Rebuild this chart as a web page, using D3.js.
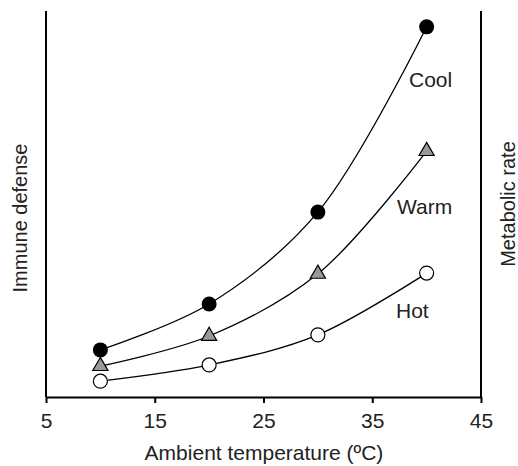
<!DOCTYPE html>
<html>
<head>
<meta charset="utf-8">
<script src="https://d3js.org/d3.v7.min.js"></script>
<style>
  body { margin: 0; background: #fff; }
  text { font-family: "Liberation Sans", Arial, sans-serif; fill: #222; }
</style>
</head>
<body>
<svg width="518" height="466"></svg>
<script>
// values (y is a unitless relative scale 0-100)
const temps = [10, 20, 30, 40];
const cool = [12.2, 24.1, 47.9, 95.9];
const warm = [8.0, 15.8, 31.9, 63.7];
const hot = [4.1, 8.3, 16.1, 32.1];
const xTicks = [5, 15, 25, 35, 45];

const plotLeft = 46, plotRight = 481, plotTop = 11, plotBottom = 397;
const fs = '21px';

const svg = d3.select('svg');

const x = d3.scaleLinear().domain([5, 45]).range([plotLeft, plotRight]);
const y = d3.scaleLinear().domain([0, 100]).range([plotBottom, plotTop]);

// x axis
const xAxis = svg.append('g')
    .attr('transform', 'translate(0,' + plotBottom + ')')
    .call(d3.axisBottom(x).tickValues(xTicks).tickSize(6).tickPadding(10).tickSizeOuter(0));
xAxis.select('.domain').attr('stroke', '#000').attr('stroke-width', 2);
xAxis.selectAll('.tick line').attr('stroke', '#000').attr('stroke-width', 2);
xAxis.selectAll('.tick text')
    .style('font-family', '"Liberation Sans", Arial, sans-serif')
    .style('font-size', fs).attr('fill', '#222');

// left and right vertical axes (no ticks)
svg.append('line').attr('x1', plotLeft).attr('x2', plotLeft).attr('y1', plotTop).attr('y2', plotBottom)
    .attr('stroke', '#000').attr('stroke-width', 2);
svg.append('line').attr('x1', plotRight).attr('x2', plotRight).attr('y1', plotTop).attr('y2', plotBottom)
    .attr('stroke', '#000').attr('stroke-width', 2);

// curves
const line = d3.line()
    .x((d, i) => x(temps[i]))
    .y(d => y(d))
    .curve(d3.curveCatmullRom.alpha(0.5));

[cool, warm, hot].forEach(function(s) {
  svg.append('path').attr('d', line(s))
      .attr('fill', 'none').attr('stroke', '#000').attr('stroke-width', 1.3);
});

// markers
svg.append('g').selectAll('circle').data(hot).enter().append('circle')
    .attr('cx', (d, i) => x(temps[i])).attr('cy', d => y(d)).attr('r', 7)
    .attr('fill', '#fff').attr('stroke', '#000').attr('stroke-width', 1.2);

const tri = d3.symbol().type(d3.symbolTriangle).size(100);
svg.append('g').selectAll('path').data(warm).enter().append('path')
    .attr('d', tri)
    .attr('transform', (d, i) => 'translate(' + x(temps[i]) + ',' + y(d) + ')')
    .attr('fill', '#999').attr('stroke', '#000').attr('stroke-width', 1.2);

svg.append('g').selectAll('circle').data(cool).enter().append('circle')
    .attr('cx', (d, i) => x(temps[i])).attr('cy', d => y(d)).attr('r', 7.5)
    .attr('fill', '#000');

// series labels
svg.append('text').attr('x', 409).attr('y', 87).style('font-size', fs).text('Cool');
svg.append('text').attr('x', 397).attr('y', 214).style('font-size', fs).text('Warm');
svg.append('text').attr('x', 396).attr('y', 318).style('font-size', fs).text('Hot');

// axis titles
svg.append('text').attr('x', 264).attr('y', 460).attr('text-anchor', 'middle')
    .style('font-size', fs).text('Ambient temperature (ºC)');
svg.append('text').attr('transform', 'translate(27,218) rotate(-90)')
    .attr('text-anchor', 'middle').style('font-size', '20px').text('Immune defense');
svg.append('text').attr('transform', 'translate(515,204) rotate(-90)')
    .attr('text-anchor', 'middle').style('font-size', '20px').text('Metabolic rate');
</script>
</body>
</html>
